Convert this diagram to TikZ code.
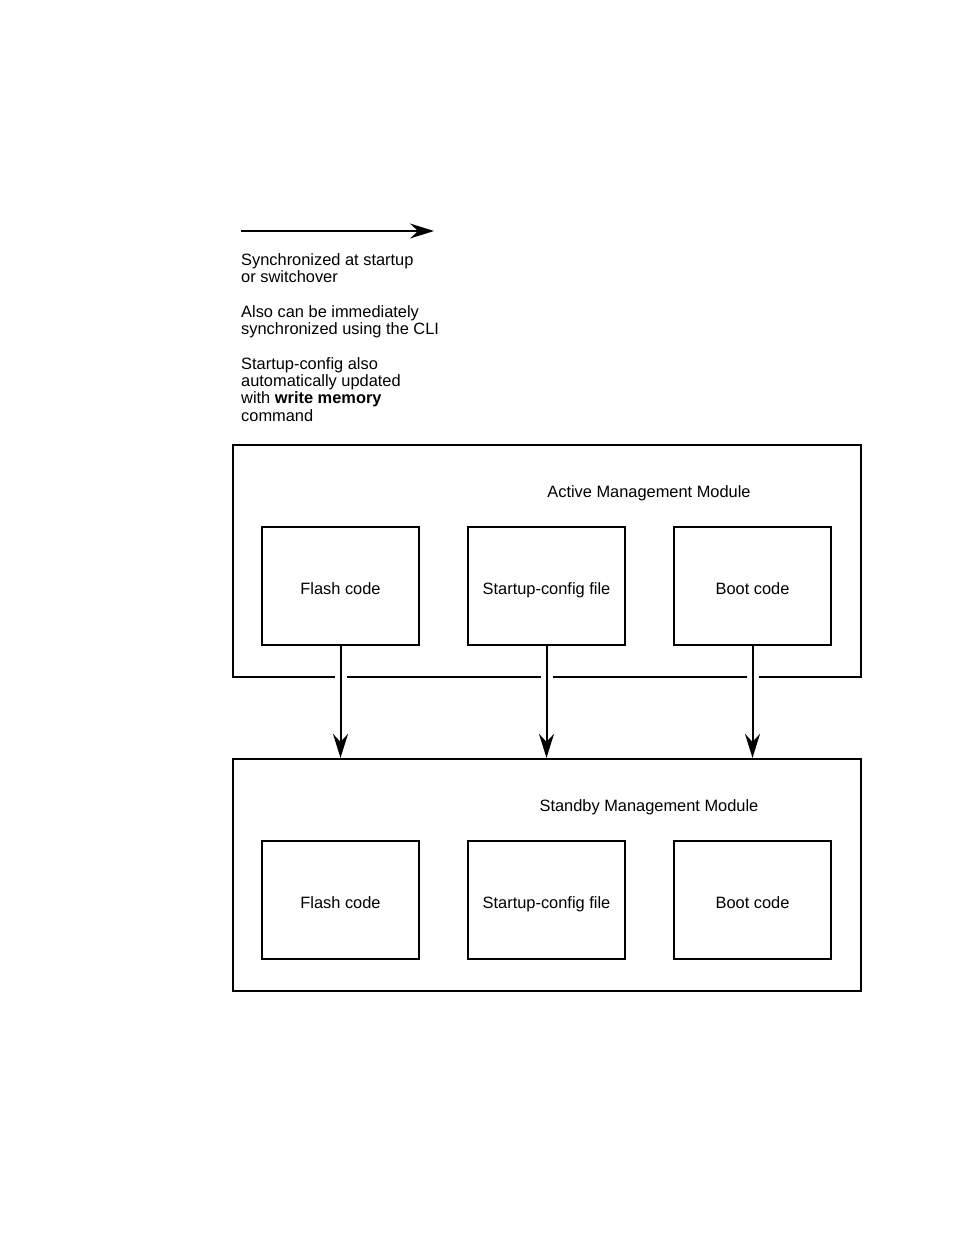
\documentclass[tikz,border=0pt]{standalone}
\usepackage{fontspec}
\setmainfont{Liberation Sans}
\usetikzlibrary{arrows.meta,calc}
\begin{document}
\begin{tikzpicture}[x=1pt,y=-1pt,
  every node/.style={font=\fontsize{16.4}{17.4}\selectfont, text=black},
  boxline/.style={line width=2.2pt, line join=miter},
  innerbox/.style={draw, line width=2.2pt, minimum width=157pt, minimum height=118pt, inner sep=0pt, text height=16pt, text depth=0pt},
  outerbox/.style={minimum width=628pt, minimum height=232pt, inner sep=0pt},
  sync/.style={line width=2pt, -{Stealth[length=24pt,width=15pt,inset=8pt]}},
  leg/.style={anchor=base west, inner sep=0pt}]
\useasboundingbox (0,0) rectangle (954,1235);

% legend
\coordinate (l0) at (241,231);
\coordinate (l1) at (434,231);
\draw[sync] (l0) -- (l1);
\node[leg] (t1) at (241,265) {Synchronized at startup};
\node[leg] (t2) at (241,282) {or switchover};
\node[leg] (t3) at (241,317) {Also can be immediately};
\node[leg] (t4) at (241,334) {synchronized using the CLI};
\node[leg] (t5) at (241,369) {Startup-config also};
\node[leg] (t6) at (241,386) {automatically updated};
\node[leg] (t7) at (241,403) {with \textbf{write memory}};
\node[leg] (t8) at (241,421) {command};

% active module
\node[outerbox] (act) at (547,561) {};
\node (actl) at (649,493) {Active Management Module};
\node[innerbox] (af) at (340.5,586) {Flash code};
\node[innerbox] (as) at (546.5,586) {Startup-config file};
\node[innerbox] (ab) at (752.5,586) {Boot code};
\draw[boxline] ([xshift=6pt]act.south -| ab) -- (act.south east) -- (act.north east)
  -- (act.north west) -- (act.south west) -- ([xshift=-6pt]act.south -| af);
\draw[boxline] ([xshift=6pt]act.south -| af) -- ([xshift=-6pt]act.south -| as);
\draw[boxline] ([xshift=6pt]act.south -| as) -- ([xshift=-6pt]act.south -| ab);

% standby module
\node[outerbox, draw, line width=2.2pt] (sby) at (547,875) {};
\node (sbyl) at (649,807) {Standby Management Module};
\node[innerbox] (sf) at (340.5,900) {Flash code};
\node[innerbox] (ss) at (546.5,900) {Startup-config file};
\node[innerbox] (sb) at (752.5,900) {Boot code};

% synchronization arrows
\draw[sync] (af.south) -- (af.south |- sby.north);
\draw[sync] (as.south) -- (as.south |- sby.north);
\draw[sync] (ab.south) -- (ab.south |- sby.north);
\end{tikzpicture}
\end{document}
